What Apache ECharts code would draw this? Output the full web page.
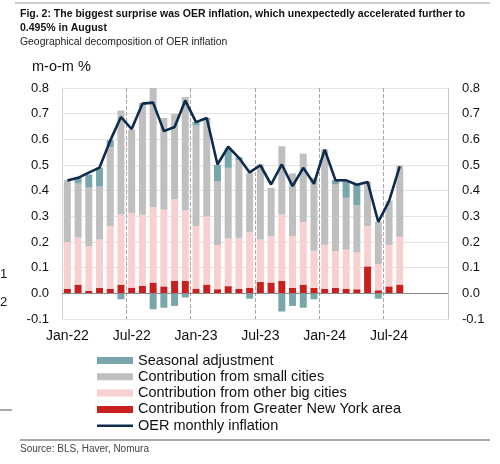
<!DOCTYPE html>
<html>
<head>
<meta charset="utf-8">
<script src="https://cdn.jsdelivr.net/npm/echarts@6/dist/echarts.min.js"></script>
<style>
  html, body { margin: 0; padding: 0; background: #fff; }
  #chart { width: 500px; height: 464px; }
</style>
</head>
<body>
<div id="chart"></div>
<script>
// months on the x axis (axis runs to Dec-24, data stops at Aug-24)
const months = [
  "Jan-22", "Feb-22", "Mar-22", "Apr-22", "May-22", "Jun-22", "Jul-22", "Aug-22", "Sep-22", "Oct-22", "Nov-22", "Dec-22",
  "Jan-23", "Feb-23", "Mar-23", "Apr-23", "May-23", "Jun-23", "Jul-23", "Aug-23", "Sep-23", "Oct-23", "Nov-23", "Dec-23",
  "Jan-24", "Feb-24", "Mar-24", "Apr-24", "May-24", "Jun-24", "Jul-24", "Aug-24", "Sep-24", "Oct-24", "Nov-24", "Dec-24",
];
const newYorkArea = [
  0.018, 0.034, 0.010, 0.021, 0.018, 0.034, 0.022, 0.029, 0.042, 0.027, 0.049, 0.048,
  0.018, 0.034, 0.016, 0.028, 0.017, 0.022, 0.044, 0.042, 0.048, 0.021, 0.034, 0.021,
  0.018, 0.021, 0.018, 0.016, 0.105, 0.012, 0.027, 0.034,
];
const otherBigCities = [
  0.182, 0.184, 0.173, 0.189, 0.244, 0.273, 0.291, 0.277, 0.294, 0.299, 0.317, 0.275,
  0.244, 0.266, 0.172, 0.186, 0.199, 0.216, 0.166, 0.181, 0.259, 0.202, 0.244, 0.145,
  0.171, 0.144, 0.152, 0.143, 0.157, 0.102, 0.161, 0.186,
];
const smallCities = [
  0.238, 0.210, 0.229, 0.206, 0.308, 0.405, 0.325, 0.436, 0.469, 0.357, 0.333, 0.442,
  0.392, 0.377, 0.248, 0.275, 0.304, 0.232, 0.292, 0.188, 0.266, 0.244, 0.266, 0.284,
  0.372, 0.259, 0.202, 0.184, 0.168, 0.164, 0.173, 0.278,
];
const seasonalAdj = [
  0.002, 0.022, 0.051, 0.074, 0.027, -0.023, 0, 0, -0.062, -0.056, -0.049, -0.016,
  0.013, 0.006, 0.064, 0.075, 0.010, -0.021, 0, 0, -0.071, -0.049, -0.056, -0.023,
  0, 0.017, 0.062, 0.080, 0.004, -0.021, 0, 0,
];
const oerMoM = [
  0.44, 0.45, 0.47, 0.49, 0.595, 0.687, 0.64, 0.739, 0.743, 0.632, 0.648, 0.751,
  0.667, 0.683, 0.502, 0.571, 0.528, 0.471, 0.499, 0.424, 0.502, 0.418, 0.489, 0.427,
  0.56, 0.441, 0.44, 0.423, 0.434, 0.278, 0.359, 0.495,
];

const font = "Liberation Sans, Arial, sans-serif";
const chart = echarts.init(document.getElementById("chart"));

const yLabel = (v) => (Math.round(v * 10) / 10).toFixed(1);

const option = {
  animation: false,
  textStyle: { fontFamily: font },
  graphic: [
    { type: "line", shape: { x1: 15, y1: 3, x2: 490, y2: 3 }, style: { stroke: "#a89898", lineWidth: 1 } },
    {
      type: "text", left: 20, top: 7,
      style: {
        text: "Fig. 2: The biggest surprise was OER inflation, which unexpectedly accelerated further to\n0.495% in August",
        font: "bold 10.5px " + font, fill: "#111", lineHeight: 14,
      },
    },
    { type: "text", left: 20, top: 37, style: { text: "Geographical decomposition of OER inflation", font: "10.4px " + font, fill: "#222" } },
    { type: "text", left: 32, top: 59, style: { text: "m-o-m %", font: "14.5px " + font, fill: "#111" } },
    { type: "line", shape: { x1: 20, y1: 440, x2: 490, y2: 440 }, style: { stroke: "#555", lineWidth: 1 } },
    { type: "text", left: 20, top: 444, style: { text: "Source: BLS, Haver, Nomura", font: "10px " + font, fill: "#444" } },
    // bits of the neighbouring figure cut off at the left edge
    { type: "text", left: 0, top: 268, style: { text: "1", font: "13px " + font, fill: "#111" } },
    { type: "text", left: 0, top: 296, style: { text: "2", font: "13px " + font, fill: "#111" } },
    { type: "line", shape: { x1: 0, y1: 410, x2: 12, y2: 410 }, style: { stroke: "#555", lineWidth: 1 } },
  ],
  legend: {
    orient: "vertical",
    left: 92,
    top: 348,
    itemWidth: 36,
    itemHeight: 7,
    itemGap: 1.3,
    textStyle: { fontSize: 14.5, color: "#111", lineHeight: 14.5, fontFamily: font },
    data: [
      { name: "Seasonal adjustment", icon: "rect" },
      { name: "Contribution from small cities", icon: "rect" },
      { name: "Contribution from other big cities", icon: "rect" },
      { name: "Contribution from Greater New York area", icon: "rect" },
      { name: "OER monthly inflation", icon: "path://M0,0 L36,0 L36,2.6 L0,2.6 Z" },
    ],
  },
  grid: { left: 62, right: 52, top: 88, bottom: 145, outerBoundsMode: "none" },
  xAxis: {
    type: "category",
    data: months,
    boundaryGap: true,
    axisLine: { show: false, onZero: false },
    axisTick: { show: false },
    axisLabel: { interval: 5, fontSize: 14, color: "#111", margin: 10 },
    splitLine: {
      show: true,
      interval: (i) => i > 0 && i % 6 === 0,
      lineStyle: { type: "dashed", color: "#a8a8a8", width: 1 },
    },
  },
  yAxis: [
    {
      type: "value", min: -0.1, max: 0.8, interval: 0.1,
      axisLine: { show: true, lineStyle: { color: "#d4d4d4" } },
      axisTick: { show: false },
      axisLabel: { formatter: yLabel, fontSize: 13, color: "#111", margin: 13 },
      splitLine: { lineStyle: { color: "#e4e4e4" } },
    },
    {
      type: "value", position: "right", min: -0.1, max: 0.8, interval: 0.1,
      axisLine: { show: true, lineStyle: { color: "#c4c4c4" } },
      axisTick: { show: false },
      axisLabel: { formatter: yLabel, fontSize: 13, color: "#111", margin: 14 },
      splitLine: { show: false },
    },
  ],
  series: [
    {
      name: "Contribution from Greater New York area", type: "bar", stack: "oer",
      barWidth: 7, data: newYorkArea, itemStyle: { color: "#c8201f" },
      markLine: {
        silent: true, symbol: "none", label: { show: false },
        lineStyle: { color: "#8a8a8a", width: 1, type: "solid" },
        data: [{ yAxis: 0 }],
      },
    },
    {
      name: "Contribution from other big cities", type: "bar", stack: "oer",
      barWidth: 7, data: otherBigCities, itemStyle: { color: "#f8d0d0" },
    },
    {
      name: "Contribution from small cities", type: "bar", stack: "oer",
      barWidth: 7, data: smallCities, itemStyle: { color: "#bfbfbf" },
    },
    {
      name: "Seasonal adjustment", type: "bar", stack: "oer",
      barWidth: 7, data: seasonalAdj, itemStyle: { color: "#79a6ab" },
    },
    {
      name: "OER monthly inflation", type: "line", data: oerMoM,
      symbol: "none", z: 5,
      lineStyle: { color: "#0d2b4c", width: 2.6 },
      itemStyle: { color: "#0d2b4c" },
    },
  ],
};
chart.setOption(option);
</script>
</body>
</html>
